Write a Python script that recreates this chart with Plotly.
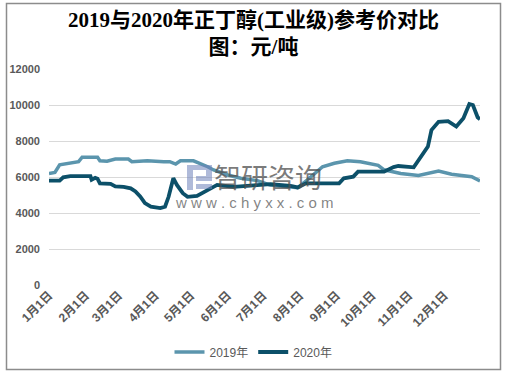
import plotly.graph_objects as go

# ---- data ----
dates_2019 = ["01-01", "01-06", "01-10", "01-19", "01-26", "01-29", "02-11", "02-13", "02-19", "02-26",
              "03-09", "03-12", "03-25", "04-08", "04-13", "04-18", "04-22", "05-03", "05-09", "05-15",
              "05-20", "06-01", "06-12", "06-26", "07-07", "07-18", "07-30", "08-07", "08-20", "08-30",
              "09-10", "09-21", "10-06", "10-11", "10-19", "10-25", "11-09", "11-22", "11-26", "12-07",
              "12-15", "12-24", "12-31"]
price_2019 = [6200, 6250, 6680, 6760, 6850, 7100, 7100, 6900, 6880, 7000,
              7000, 6850, 6900, 6850, 6850, 6720, 6900, 6900, 6760, 6570,
              6390, 6110, 5930, 5800, 5550, 5460, 5400, 5830, 6570, 6760,
              6900, 6850, 6650, 6400, 6300, 6200, 6080, 6250, 6330, 6150,
              6110, 6020, 5780]

dates_2020 = ["01-01", "01-10", "01-13", "01-19", "02-05", "02-06", "02-09", "02-11", "02-13", "02-22",
              "02-26", "03-05", "03-11", "03-15", "03-19", "03-23", "03-28", "04-05", "04-09", "04-12",
              "04-16", "04-19", "04-24", "04-28", "05-06", "05-15", "05-23", "06-06", "06-20", "07-07",
              "07-24", "07-30", "08-06", "09-03", "09-07", "09-15", "09-19", "10-11", "10-19", "10-23",
              "11-05", "11-11", "11-17", "11-20", "11-26", "12-04", "12-11", "12-17", "12-22", "12-25",
              "12-29", "12-31"]
price_2020 = [5800, 5800, 5980, 6050, 6050, 5850, 5950, 5900, 5650, 5620,
              5480, 5450, 5370, 5200, 4920, 4550, 4350, 4270, 4350, 4900,
              5930, 5560, 5100, 4900, 4950, 5280, 5560, 5450, 5500, 5600,
              5500, 5420, 5650, 5650, 5930, 6020, 6300, 6300, 6550, 6610,
              6540, 7130, 7690, 8610, 9070, 9100, 8800, 9260, 10050, 10000,
              9320, 9210]

month_ticks = ["01-01", "02-01", "03-01", "04-01", "05-01", "06-01",
               "07-01", "08-01", "09-01", "10-01", "11-01", "12-01"]
month_labels = ["1月1日", "2月1日", "3月1日", "4月1日", "5月1日", "6月1日",
                "7月1日", "8月1日", "9月1日", "10月1日", "11月1日", "12月1日"]
y_ticks = [0, 2000, 4000, 6000, 8000, 10000, 12000]
y_labels = ["0", "2000", "4000", "6000", "8000", "10000", "12000"]

series_names = ["2019年", "2020年"]
title_text = "2019与2020年正丁醇(工业级)参考价对比<br>图：元/吨"

AXIS_YEAR = "2019-"  # common axis year so both years overlay

def on_axis(md):
    return [AXIS_YEAR + d for d in md]

# ---- figure ----
C2019 = "#5b95ad"
C2020 = "#0c5069"

fig = go.Figure()
fig.add_trace(go.Scatter(x=on_axis(dates_2019), y=price_2019, mode="lines", name=series_names[0],
                         line=dict(color=C2019, width=3.5)))
fig.add_trace(go.Scatter(x=on_axis(dates_2020), y=price_2020, mode="lines", name=series_names[1],
                         line=dict(color=C2020, width=3.8)))

W, H = 507, 376
L, R, T, B = 49, 27, 69, 91
pw, ph = W - L - R, H - T - B

def px_x(x):
    return (x - L) / pw

def px_y(y):
    return (H - B - y) / ph

tick_font = dict(family="Liberation Sans, Noto Sans CJK SC", size=11, color="#595959", weight="bold")
xtick_font = dict(family="Liberation Sans, Noto Sans CJK SC", size=12, color="#595959", weight="bold")

fig.update_layout(
    width=W, height=H,
    margin=dict(l=L, r=R, t=T, b=B, pad=0, autoexpand=False),
    paper_bgcolor="white", plot_bgcolor="white",
    title=dict(text=title_text, x=0.5, xanchor="center", y=1 - 27 / H, yanchor="middle",
               font=dict(family="Liberation Serif, Noto Sans CJK SC", size=21, color="#000000", weight="bold")),
    xaxis=dict(type="date", range=[AXIS_YEAR + "01-01", AXIS_YEAR + "12-31"],
               tickvals=on_axis(month_ticks), ticktext=month_labels, tickangle=-45,
               tickfont=xtick_font, showgrid=False, zeroline=False, showline=False, ticks="",
               automargin=False),
    yaxis=dict(range=[0, 12000], tickvals=y_ticks, ticktext=y_labels, tickfont=tick_font, showgrid=True,
               gridcolor="#d9d9d9", gridwidth=1, zeroline=False, showline=False, ticks="",
               ticklabelstandoff=8, automargin=False),
    legend=dict(orientation="h", x=0.5, xanchor="center", xref="container",
                y=1 - 352 / H, yanchor="middle", yref="container",
                font=dict(family="Liberation Sans, Noto Sans CJK SC", size=12, color="#595959"),
                tracegroupgap=0),
    showlegend=True,
)

# outer frame
fig.add_shape(type="rect", xref="paper", yref="paper",
              x0=px_x(6.5), x1=px_x(500.5), y0=px_y(369.5), y1=px_y(3.5),
              line=dict(color="#8c8c8c", width=1.5), fillcolor="rgba(0,0,0,0)", layer="above")

# watermark logo (blocky "P" mark)
logo_col = "rgba(110,130,185,0.55)"
for (x0, y0, x1, y1) in [(187, 165, 193, 190), (193, 165, 212, 170), (206, 170, 212, 181), (196, 176, 206, 181),
                         (196, 184, 212, 189)]:
    fig.add_shape(type="rect", xref="paper", yref="paper", x0=px_x(x0), x1=px_x(x1), y0=px_y(y1), y1=px_y(y0),
                  line=dict(width=0), fillcolor=logo_col, layer="above")

# watermark text
fig.add_annotation(xref="paper", yref="paper", x=px_x(268), y=px_y(176), text="智研咨询",
                   showarrow=False, font=dict(family="Noto Sans CJK SC", size=27, color="rgba(80,80,80,0.75)"))
fig.add_annotation(xref="paper", yref="paper", x=px_x(254), y=px_y(202), text="w w w . c h y x x . c o m",
                   showarrow=False, font=dict(family="Liberation Sans", size=15, color="rgba(90,90,90,0.75)"))

fig.write_html("out.html", config={"displayModeBar": False},
               post_script="document.body.style.margin='0';document.body.style.overflow='hidden';")
